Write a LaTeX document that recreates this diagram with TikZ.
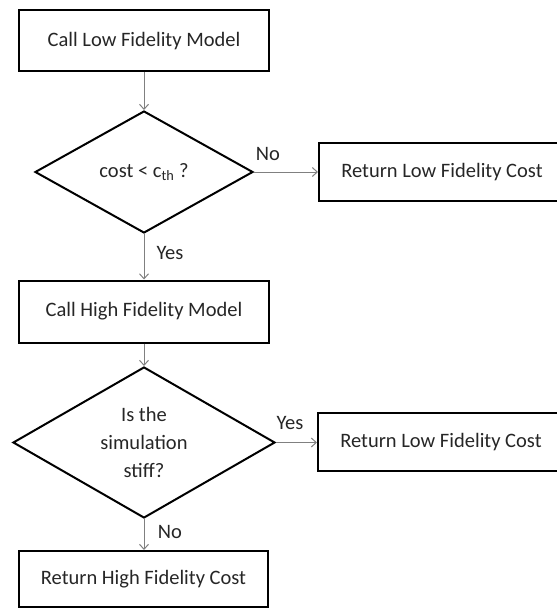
\documentclass[tikz,border=0pt]{standalone}
\usepackage{fontspec}
\setmainfont{Carlito}
\usetikzlibrary{shapes.geometric,arrows.meta}
\definecolor{flowgray}{HTML}{808080}
\definecolor{inkgray}{HTML}{262626}
\tikzset{
  procbox/.style={draw=black, line width=2bp, rectangle, inner sep=0pt,
    font=\fontsize{20.5bp}{24bp}\selectfont, text=inkgray},
  decision/.style={draw=black, line width=2bp, diamond, inner sep=0pt,
    font=\fontsize{20.5bp}{28bp}\selectfont, text=inkgray, align=center},
  flow/.style={draw=flowgray, line width=1bp,
    -{Straight Barb[length=5bp,width=9bp,line width=1bp]}},
  branch/.style={font=\fontsize{20.5bp}{24bp}\selectfont, text=inkgray, inner sep=0pt}
}
\begin{document}
\begin{tikzpicture}[x=1bp,y=-1bp]
\useasboundingbox (0,0) rectangle (557,612);

% main column
\node[procbox, minimum width=250bp, minimum height=61bp] (lowcall) at (144,41) {Call Low Fidelity Model};
\node[decision, minimum width=218bp, minimum height=122bp, aspect=1.79] (costtest) at (144,172) {cost < c\textsubscript{th} ?};
\node[procbox, minimum width=250bp, minimum height=62bp] (highcall) at (144,311.5) {Call High Fidelity Model};
\node[decision, minimum width=262bp, minimum height=151bp, aspect=1.74] (stifftest) at (144,442.5) {Is the\\simulation\\stiff?};
\node[procbox, minimum width=249bp, minimum height=56bp] (highret) at (143.5,579) {Return High Fidelity Cost};

% side outcomes (running off the right edge)
\node[procbox, minimum width=246bp, minimum height=58bp] (lowret1) at (442,172) {Return Low Fidelity Cost};
\node[procbox, minimum width=246bp, minimum height=58bp] (lowret2) at (441,442) {Return Low Fidelity Cost};

% connectors
\draw[flow] (lowcall.south) -- (costtest.north);
\draw[flow] (costtest.south) -- (highcall.north);
\draw[flow] (highcall.south) -- (stifftest.north);
\draw[flow] (stifftest.south) -- (highret.north -| stifftest.south);
\draw[flow] (costtest.east) -- (lowret1.west |- costtest.east);
\draw[flow] (stifftest.east) -- (lowret2.west |- stifftest.east);

% branch labels
\node[branch] (lno) at (268,154) {No};
\node[branch] (lyes) at (170,253) {Yes};
\node[branch] (syes) at (290,423) {Yes};
\node[branch] (sno) at (170,532) {No};
\end{tikzpicture}
\end{document}
